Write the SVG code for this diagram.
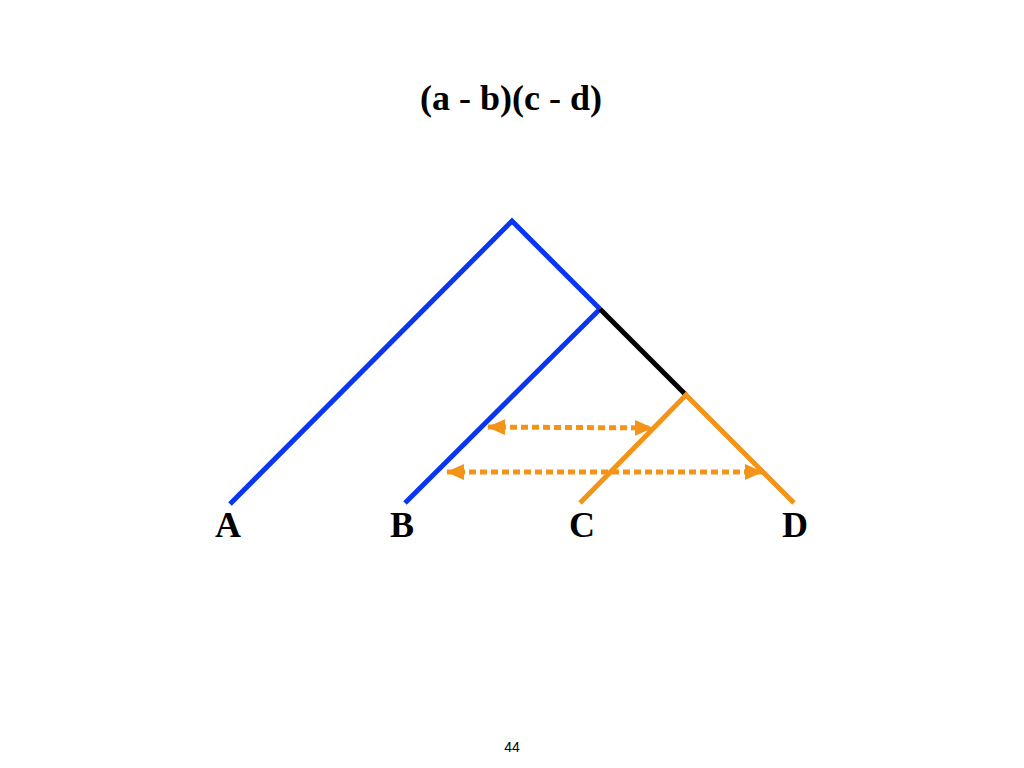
<svg xmlns="http://www.w3.org/2000/svg" width="1024" height="768" viewBox="0 0 1024 768">
<style>
.b{stroke:#0A36F2;stroke-width:5;fill:none}
.o{stroke:#F39418;stroke-width:5;fill:none}
.k{stroke:#000;stroke-width:5;fill:none}
.d{stroke:#F39418;stroke-width:5;fill:none;stroke-dasharray:7 4}
.lab{font-family:"Liberation Serif",serif;font-weight:bold;font-size:36px;text-anchor:middle;fill:#000}
</style>
<defs>
<marker id="ah" markerWidth="18" markerHeight="16" refX="17" refY="8" orient="auto-start-reverse" markerUnits="userSpaceOnUse">
<path d="M0,0 L18,8 L0,16 Z" fill="#F39418"/>
</marker>
</defs>
<rect width="1024" height="768" fill="#fff"/>
<text class="lab" x="511" y="110">(a - b)(c - d)</text>
<g id="tree">
<polyline class="b" points="230,504 512,221 600,309"/>
<line class="b" x1="600" y1="309" x2="405" y2="503"/>
<line class="k" x1="600" y1="309" x2="686" y2="395"/>
<polyline class="o" points="580,503 686,395 794,503"/>
</g>
<g id="connectors">
<line class="d" x1="488" y1="427" x2="652" y2="428" marker-start="url(#ah)" marker-end="url(#ah)"/>
<line class="d" x1="447" y1="472" x2="762" y2="472" marker-start="url(#ah)" marker-end="url(#ah)"/>
</g>
<g id="A"><text class="lab" x="228" y="537">A</text></g>
<g id="B"><text class="lab" x="402" y="537">B</text></g>
<g id="C"><text class="lab" x="582" y="537">C</text></g>
<g id="D"><text class="lab" x="795" y="537">D</text></g>
<text x="512" y="752" font-family="Liberation Sans,sans-serif" font-size="14" text-anchor="middle" fill="#000">44</text>
</svg>
